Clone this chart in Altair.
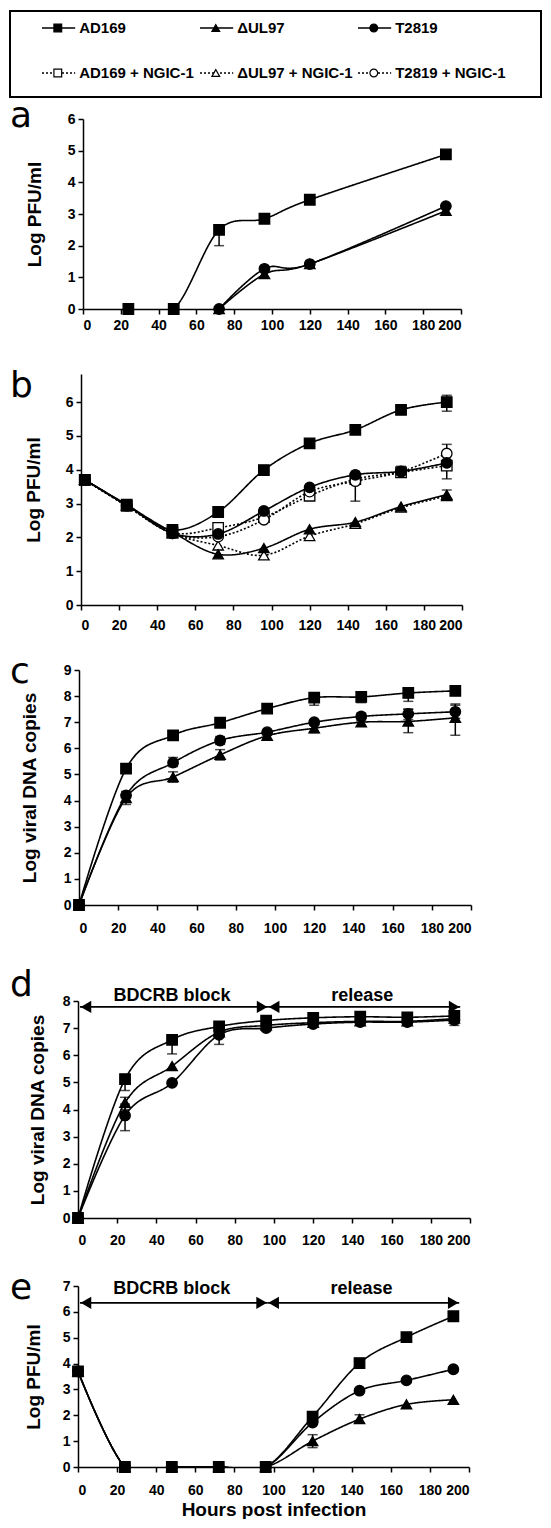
import altair as alt
import pandas as pd

SERIES = ["AD169", "ΔUL97", "T2819", "AD169 + NGIC-1", "ΔUL97 + NGIC-1", "T2819 + NGIC-1"]

# ---------------- panel a : Log PFU/ml ----------------
a_hours = [24, 48, 72, 96, 120, 192]
a_AD169 = [0, 0, 2.5, 2.85, 3.45, 4.88]
a_dUL97 = [None, None, 0, 1.1, 1.42, 3.1]
a_T2819 = [None, None, 0, 1.27, 1.42, 3.25]
a_err_series = ["AD169"]
a_err_hours = [72]
a_err_lo = [2.0]
a_err_hi = [2.55]

# ---------------- panel b : Log PFU/ml (+/- NGIC-1) ----------------
b_hours = [2, 24, 48, 72, 96, 120, 144, 168, 192]
b_AD169 = [3.7, 2.97, 2.22, 2.75, 3.99, 4.78, 5.18, 5.77, 6.0]
b_dUL97 = [3.7, 2.95, 2.15, 1.5, 1.68, 2.24, 2.45, 2.91, 3.26]
b_T2819 = [3.7, 2.95, 2.12, 2.1, 2.78, 3.48, 3.85, 3.95, 4.2]
b_AD169_N = [3.7, 2.93, 2.14, 2.28, 2.6, 3.23, 3.72, 3.92, 4.12]
b_dUL97_N = [3.7, 2.93, 2.12, 1.76, 1.47, 2.04, 2.4, 2.88, 3.22]
b_T2819_N = [3.7, 2.93, 2.12, 2.02, 2.52, 3.35, 3.66, 3.94, 4.48]
b_err_series = ["AD169", "AD169 + NGIC-1", "T2819 + NGIC-1", "T2819 + NGIC-1", "T2819 + NGIC-1", "ΔUL97"]
b_err_hours = [192, 192, 192, 144, 168, 192]
b_err_lo = [5.73, 3.73, 4.2, 3.07, 3.8, 3.15]
b_err_hi = [6.2, 4.45, 4.75, 3.75, 4.1, 3.4]

# ---------------- panel c : Log viral DNA copies ----------------
c_hours = [0, 24, 48, 72, 96, 120, 144, 168, 192]
c_AD169 = [0, 5.22, 6.5, 6.98, 7.52, 7.94, 7.97, 8.12, 8.2]
c_dUL97 = [0, 4.1, 4.9, 5.75, 6.48, 6.77, 7.0, 7.03, 7.17]
c_T2819 = [0, 4.2, 5.45, 6.3, 6.62, 7.0, 7.22, 7.32, 7.4]
c_err_series = ["AD169"] * 6 + ["ΔUL97"] * 7 + ["T2819"] * 5
c_err_hours = [24, 48, 120, 144, 168, 192, 24, 48, 72, 96, 120, 168, 192, 48, 72, 144, 168, 192]
c_err_lo = [5.05, 6.35, 7.65, 7.75, 7.8, 8.05, 3.85, 4.7, 5.55, 6.35, 6.6, 6.6, 6.5, 5.3, 6.15, 7.05, 7.1, 7.15]
c_err_hi = [5.4, 6.6, 8.0, 8.1, 8.3, 8.35, 4.35, 5.1, 5.95, 6.6, 6.9, 7.5, 7.7, 5.65, 6.45, 7.35, 7.5, 7.65]

# ---------------- panel d : Log viral DNA copies, BDCRB block ----------------
d_hours = [0, 24, 48, 72, 96, 120, 144, 168, 192]
d_AD169 = [0, 5.12, 6.57, 7.06, 7.28, 7.38, 7.42, 7.4, 7.45]
d_dUL97 = [0, 4.25, 5.6, 6.85, 7.1, 7.2, 7.25, 7.25, 7.35]
d_T2819 = [0, 3.78, 4.98, 6.75, 7.0, 7.15, 7.22, 7.22, 7.3]
d_err_series = ["AD169", "AD169", "ΔUL97", "ΔUL97", "ΔUL97", "T2819"]
d_err_hours = [24, 48, 24, 72, 192, 24]
d_err_lo = [4.7, 6.05, 4.0, 6.4, 7.1, 3.22]
d_err_hi = [5.2, 6.6, 4.45, 6.9, 7.6, 4.2]

# ---------------- panel e : Log PFU/ml, BDCRB block ----------------
e_hours = [0, 24, 48, 72, 96, 120, 144, 168, 192]
e_AD169 = [3.7, 0, 0, 0, 0, 1.95, 4.02, 5.02, 5.83]
e_dUL97 = [3.7, 0, 0, 0, 0, 1.0, 1.85, 2.42, 2.6]
e_T2819 = [3.7, 0, 0, 0, 0, 1.72, 2.95, 3.35, 3.78]
e_err_series = ["ΔUL97", "ΔUL97", "AD169", "AD169"]
e_err_hours = [120, 144, 192, 0]
e_err_lo = [0.75, 1.7, 5.75, 3.55]
e_err_hi = [1.25, 2.02, 5.92, 3.8]

# ---------------- BDCRB block / release annotation ----------------
arrow_labels = ["BDCRB block", "release"]
arrow_start = [1, 97]
arrow_end = [97, 195]
arrow_label_hours = [48, 145]
d_arrow_level = 7.78
d_label_level = 8.18
e_arrow_level = 6.35
e_label_level = 6.87

x_ticks = list(range(0, 201, 20))

shape_scale = alt.Scale(domain=SERIES, range=["square", "triangle-up", "circle"] * 2)
fill_scale = alt.Scale(domain=SERIES, range=["black"] * 3 + ["white"] * 3)
dash_scale = alt.Scale(domain=SERIES, range=[[1, 0]] * 3 + [[3, 3]] * 3)


def long_df(hours, cols):
    rows = []
    for name, vals in cols.items():
        for h, v in zip(hours, vals):
            if v is not None:
                rows.append({"series": name, "hours": h, "value": v})
    return pd.DataFrame(rows)


def err_df(series, hours, lo, hi):
    return pd.DataFrame({"series": series, "hours": hours, "lo": lo, "hi": hi})


def panel(letter, df, edf, ymax, yticks, ytitle, xrange, height, label_pad,
          title_pad, letter_dy, arrows=None, xtitle=None):
    xs = alt.Scale(domain=[0, 200], nice=False, range=xrange)
    ys = alt.Scale(domain=[0, ymax], nice=False)
    if xtitle:
        xaxis = alt.Axis(values=x_ticks, labelPadding=label_pad, titlePadding=3,
                         titleFontSize=19, labelOverlap=False, title=xtitle)
    else:
        xaxis = alt.Axis(values=x_ticks, labelPadding=label_pad, labelOverlap=False, title=None)
    yaxis = alt.Axis(values=yticks, titlePadding=title_pad, labelOverlap=False,
                     offset=-xrange[0], title=ytitle)

    def X(field):
        return alt.X(field, scale=xs, axis=xaxis)

    def Y(field):
        return alt.Y(field, scale=ys, axis=yaxis)

    base = alt.Chart(df)
    lines = base.mark_line(interpolate="cardinal", clip=True, color="black",
                           strokeWidth=1.6).encode(
        x=X("hours:Q"), y=Y("value:Q"),
        strokeDash=alt.StrokeDash("series:N", scale=dash_scale, legend=None),
        detail="series:N")
    ebase = alt.Chart(edf)
    erule = ebase.mark_rule(color="black", strokeWidth=1.5).encode(
        x=X("hours:Q"), y=Y("lo:Q"), y2="hi:Q")
    ecap = ebase.transform_fold(["lo", "hi"], as_=["end", "value"]).mark_tick(
        orient="horizontal", color="black", size=10, thickness=1.5).encode(
        x=X("hours:Q"), y=Y("value:Q"))
    pts = base.mark_point(filled=True, stroke="black", strokeWidth=1.3, size=110,
                          opacity=1).encode(
        x=X("hours:Q"), y=Y("value:Q"),
        shape=alt.Shape("series:N", scale=shape_scale, legend=None),
        fill=alt.Fill("series:N", scale=fill_scale, legend=None))
    tag = alt.Chart(pd.DataFrame({"letter": [letter]})).mark_text(
        align="left", baseline="alphabetic", font="DejaVu Sans", fontSize=36,
        color="black").encode(text="letter:N", x=alt.value(0), y=alt.value(letter_dy))
    layers = [lines, erule, ecap, pts, tag]
    if arrows is not None:
        arrow_level, label_level = arrows
        adf = pd.DataFrame({"label": arrow_labels, "start": arrow_start,
                            "end": arrow_end, "lx": arrow_label_hours})
        ab = alt.Chart(adf).transform_calculate(ay=str(arrow_level), ly=str(label_level))
        arule = ab.mark_rule(color="black", strokeWidth=1.8).encode(
            x=X("start:Q"), x2="end:Q", y=Y("ay:Q"))
        lhead = ab.mark_point(shape="triangle-left", filled=True, color="black",
                              size=150, opacity=1).encode(
            x=X("start:Q"), y=Y("ay:Q"), xOffset=alt.value(6))
        rhead = ab.mark_point(shape="triangle-right", filled=True, color="black",
                              size=150, opacity=1).encode(
            x=X("end:Q"), y=Y("ay:Q"), xOffset=alt.value(-6))
        atext = ab.mark_text(font="Liberation Sans", fontSize=18, fontWeight="bold",
                             baseline="middle", color="black").encode(
            x=X("lx:Q"), y=Y("ly:Q"), text="label:N")
        layers += [arule, lhead, rhead, atext]
    return alt.layer(*layers).properties(width=xrange[1], height=height)


def spacer(h):
    return alt.Chart(pd.DataFrame({"s": [0]})).mark_point(size=0, opacity=0).encode(
        x=alt.X("s:Q", axis=None), y=alt.Y("s:Q", axis=None)).properties(width=1, height=h)


# ---------------- legend box ----------------
leg = pd.DataFrame({"series": SERIES, "slot": list(range(len(SERIES)))})
lb = alt.Chart(leg).transform_calculate(
    col="datum.slot % 3", row="floor(datum.slot / 3)").transform_calculate(
    x0="datum.col", x1="datum.col + 0.21", xm="datum.col + 0.1", xt="datum.col + 0.235")
lx = alt.Scale(domain=[0, 3], range=[32, 506])
ly = alt.Scale(domain=[0, 1], range=[17, 62])
seg = lb.mark_rule(color="black", strokeWidth=1.6).encode(
    x=alt.X("x0:Q", scale=lx, axis=None), x2="x1:Q",
    y=alt.Y("row:Q", scale=ly, axis=None),
    strokeDash=alt.StrokeDash("series:N", scale=alt.Scale(domain=SERIES, range=[[1, 0]] * 3 + [[2, 2]] * 3), legend=None))
mk = lb.mark_point(filled=True, stroke="black", strokeWidth=1.2, size=60, opacity=1).encode(
    x=alt.X("xm:Q", scale=lx, axis=None), y=alt.Y("row:Q", scale=ly, axis=None),
    shape=alt.Shape("series:N", scale=shape_scale, legend=None),
    fill=alt.Fill("series:N", scale=fill_scale, legend=None))
tx = lb.mark_text(align="left", baseline="middle", font="Liberation Sans", fontSize=15,
                  fontWeight="bold", color="black").encode(
    x=alt.X("xt:Q", scale=lx, axis=None), y=alt.Y("row:Q", scale=ly, axis=None), text="series:N")
legend_chart = alt.layer(seg, mk, tx).properties(
    width=531, height=86, view=alt.ViewBackground(stroke="black", strokeWidth=2))

# ---------------- panels ----------------
pa = panel("a", long_df(a_hours, {"AD169": a_AD169, "ΔUL97": a_dUL97, "T2819": a_T2819}),
           err_df(a_err_series, a_err_hours, a_err_lo, a_err_hi),
           6, list(range(0, 7)), "Log PFU/ml", [73, 451], 190, 4, 22.7, 8)
pb = panel("b", long_df(b_hours, {"AD169 + NGIC-1": b_AD169_N, "ΔUL97 + NGIC-1": b_dUL97_N,
                                  "T2819 + NGIC-1": b_T2819_N, "AD169": b_AD169,
                                  "ΔUL97": b_dUL97, "T2819": b_T2819}),
           err_df(b_err_series, b_err_hours, b_err_lo, b_err_hi),
           6.83, list(range(0, 7)), "Log PFU/ml", [71, 452], 231, 8, 21.7, 23)
pc = panel("c", long_df(c_hours, {"AD169": c_AD169, "ΔUL97": c_dUL97, "T2819": c_T2819}),
           err_df(c_err_series, c_err_hours, c_err_lo, c_err_hi),
           9, list(range(0, 10)), "Log viral DNA copies", [69, 461], 235, 11, 23.7, 13)
pd_ = panel("d", long_df(d_hours, {"AD169": d_AD169, "ΔUL97": d_dUL97, "T2819": d_T2819}),
            err_df(d_err_series, d_err_hours, d_err_lo, d_err_hi),
            8, list(range(0, 9)), "Log viral DNA copies", [68, 460], 217, 10, 14.7, -5,
            arrows=(d_arrow_level, d_label_level))
pe = panel("e", long_df(e_hours, {"AD169": e_AD169, "ΔUL97": e_dUL97, "T2819": e_T2819}),
           err_df(e_err_series, e_err_hours, e_err_lo, e_err_hi),
           7, list(range(0, 8)), "Log PFU/ml", [68, 459], 181, 11, 18.7, 13,
           arrows=(e_arrow_level, e_label_level), xtitle="Hours post infection")

chart = alt.vconcat(
    legend_chart, pa, spacer(36), pb, spacer(22), pc, spacer(32), pd_, spacer(23), pe,
    spacing=0
).properties(
    padding={"left": 1, "top": 2, "right": 0, "bottom": 0}
).configure_view(stroke=None).configure_axis(
    domainColor="black", domainWidth=1.5, tickColor="black", tickWidth=1.5, tickSize=5,
    labelFont="Liberation Sans", labelFontSize=14, labelFontWeight="bold", labelColor="black",
    titleFont="Liberation Sans", titleFontSize=19, titleFontWeight="bold", titleColor="black",
    grid=False
).configure_axisY(labelPadding=3)

chart.save("out.html", embed_options={"renderer": "svg", "actions": False})
